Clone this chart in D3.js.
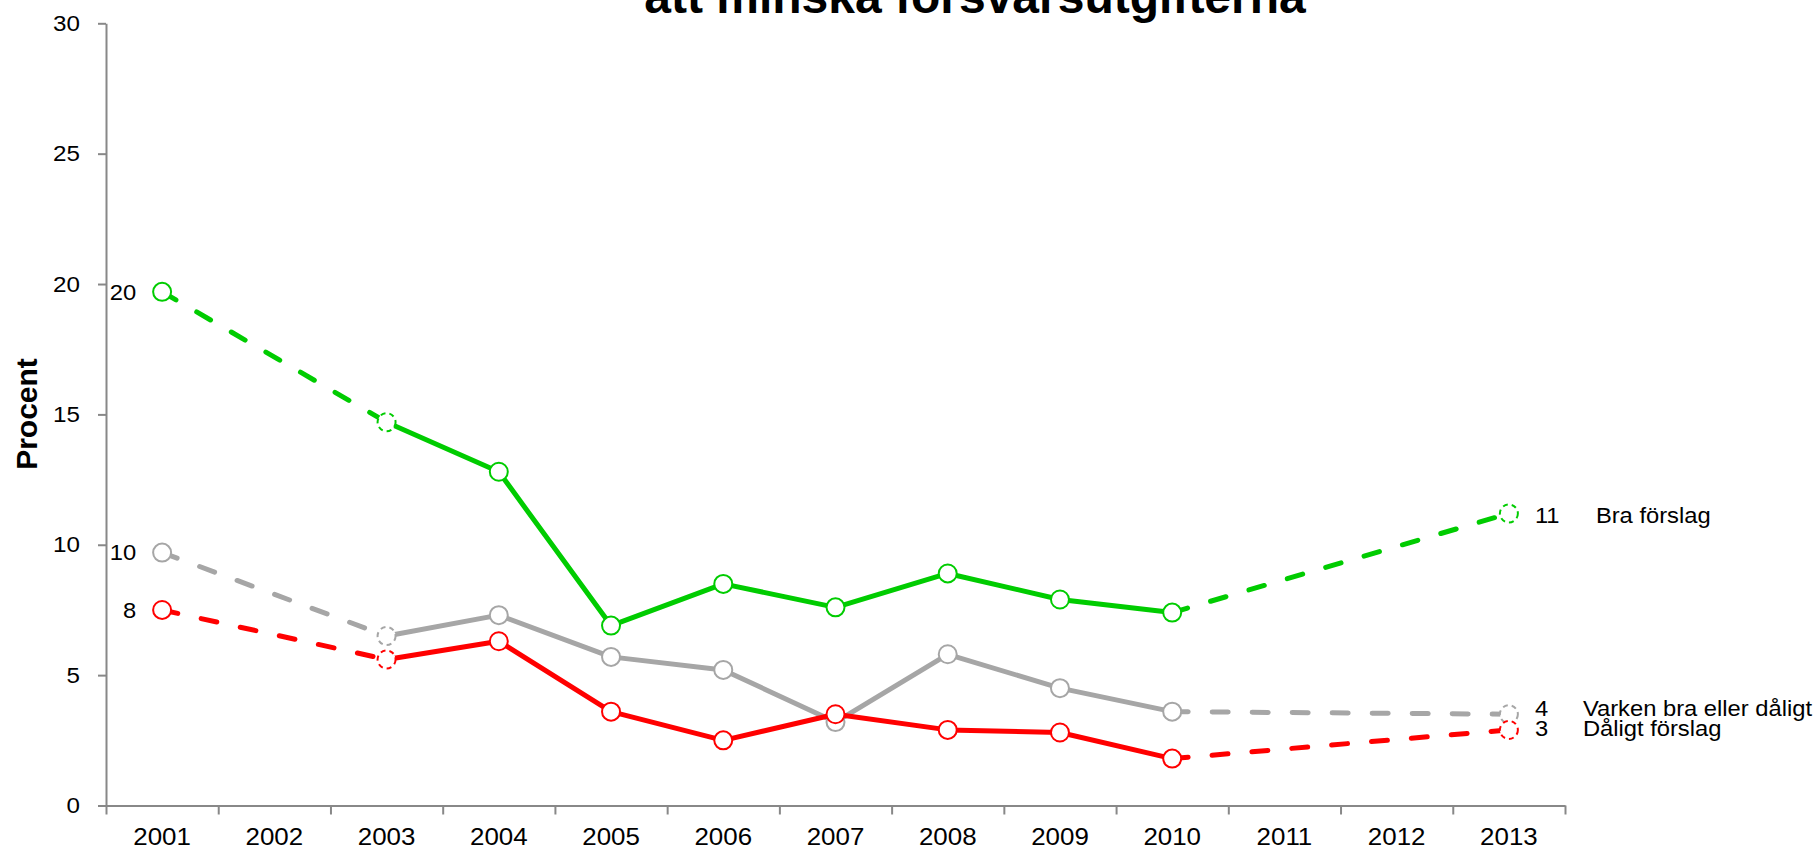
<!DOCTYPE html>
<html><head><meta charset="utf-8">
<script src="https://cdn.jsdelivr.net/npm/d3@7"></script>
<style>body{margin:0;background:#fff;overflow:hidden}svg{display:block}</style>
</head><body><svg id="c" width="1820" height="851"></svg>
<script>
// ---- data ----
const years = ["2001","2002","2003","2004","2005","2006","2007","2008","2009","2010","2011","2012","2013"];
const braForslag    = [19.7, null, 14.7, 12.8, 6.9, 8.5, 7.6, 8.9, 7.9, 7.4, null, null, 11.2];
const varkenBraEllerDaligt = [9.7, null, 6.5, 7.3, 5.7, 5.2, 3.2, 5.8, 4.5, 3.6, null, null, 3.5];
const daligtForslag = [7.5, null, 5.6, 6.3, 3.6, 2.5, 3.5, 2.9, 2.8, 1.8, null, null, 2.9];
const seriesNames = ["Varken bra eller dåligt", "Dåligt förslag", "Bra förslag"];
const yTicks = [0, 5, 10, 15, 20, 25, 30];
const titleText = "att minska försvarsutgifterna";
const yAxisTitle = "Procent";

// ---- layout ----
const svg = d3.select("#c");
const FONT = "'Liberation Sans', Arial, Helvetica, sans-serif";
const SX = 1.08; // horizontal stretch of the reference's text
const plotLeft = 106, plotRight = 1565, plotTop = 23.3, plotBottom = 805.5;
const axisColor = "#888888";

const x = d3.scaleBand().domain(years).range([plotLeft, plotRight]).paddingInner(0).paddingOuter(0);
const bw = x.bandwidth();
const cx = yr => x(yr) + bw / 2;
const y = d3.scaleLinear().domain([0, 30]).range([plotBottom, plotTop]);

const series = [
  {name: seriesNames[0], values: varkenBraEllerDaligt, color: "#A6A6A6", nameDx: 74, labelDy: -6},
  {name: seriesNames[1], values: daligtForslag, color: "#FF0000", nameDx: 74, labelDy: -2},
  {name: seriesNames[2], values: braForslag, color: "#00CC00", nameDx: 87, labelDy: 2}
];

// title (second line visible at top edge)
svg.append("text").attr("x", 975).attr("y", 13).attr("text-anchor", "middle")
  .attr("font-family", FONT).attr("font-weight", "bold").attr("font-size", 48)
  .attr("fill", "#000").text(titleText);

// y axis
const yAxis = svg.append("g").attr("transform", `translate(${plotLeft},0)`)
  .call(d3.axisLeft(y).tickValues(yTicks).tickSize(8).tickSizeOuter(0).tickPadding(18).tickFormat(d3.format("d")));
yAxis.select(".domain").attr("stroke", axisColor).attr("stroke-width", 2);
yAxis.selectAll(".tick line").attr("stroke", axisColor).attr("stroke-width", 2);
yAxis.selectAll(".tick text").each(function() {
  const t = d3.select(this);
  const xx = +t.attr("x");
  t.attr("x", 0).attr("transform", `translate(${xx},0) scale(1.1,1)`);
}).attr("font-family", FONT).attr("font-size", 22).attr("fill", "#000");

// x axis: boundary ticks
const xb = d3.scaleLinear().domain([0, years.length]).range([plotLeft, plotRight]);
const xAxisLines = svg.append("g").attr("transform", `translate(0,${plotBottom})`)
  .call(d3.axisBottom(xb).tickValues(d3.range(0, years.length + 1)).tickSize(9).tickSizeOuter(0).tickFormat(""));
xAxisLines.select(".domain").attr("stroke", axisColor).attr("stroke-width", 2);
xAxisLines.selectAll(".tick line").attr("stroke", axisColor).attr("stroke-width", 2);
// x labels
const xAxisLabels = svg.append("g").attr("transform", `translate(0,${plotBottom})`)
  .call(d3.axisBottom(x).tickSize(0).tickPadding(22));
xAxisLabels.select(".domain").remove();
xAxisLabels.selectAll(".tick text").attr("font-family", FONT).attr("font-size", 24).attr("fill", "#000")
  .attr("transform", `scale(${SX},1)`);

// y axis title
svg.append("text").attr("transform", "translate(37,414) rotate(-90)").attr("text-anchor", "middle")
  .attr("font-family", FONT).attr("font-weight", "bold").attr("font-size", 30).attr("fill", "#000").text(yAxisTitle);

// series
const line = d3.line().x(d => cx(d.year)).y(d => y(d.v));
series.forEach(s => {
  const pts = years.map((yr, i) => ({year: yr, i, v: s.values[i]})).filter(d => d.v != null);
  const segs = [];
  for (let k = 1; k < pts.length; k++) segs.push({a: pts[k-1], b: pts[k], dashed: pts[k].i - pts[k-1].i > 1});
  const g = svg.append("g");
  segs.forEach(sg => {
    g.append("path").attr("d", line([sg.a, sg.b])).attr("fill", "none")
      .attr("stroke", s.color).attr("stroke-width", 5)
      .attr("stroke-linecap", "round").attr("stroke-linejoin", "round")
      .attr("stroke-dasharray", sg.dashed ? "16,24" : null);
  });
  pts.forEach((p, k) => {
    const dashed = k > 0 && segs[k-1].dashed;
    g.append("circle").attr("cx", cx(p.year)).attr("cy", y(p.v)).attr("r", 9)
      .attr("fill", "#fff").attr("stroke", s.color).attr("stroke-width", 2)
      .attr("stroke-dasharray", dashed ? "5,4" : null);
  });
  const first = pts[0], last = pts[pts.length - 1];
  const txt = (xx, yy, anchor, str) => svg.append("text")
    .attr("transform", `translate(${xx},${yy}) scale(${SX},1)`).attr("dy", "0.35em")
    .attr("text-anchor", anchor).attr("font-family", FONT).attr("font-size", 22).attr("fill", "#000").text(str);
  txt(cx(first.year) - 26, y(first.v), "end", Math.round(first.v));
  txt(cx(last.year) + 26, y(last.v) + s.labelDy, "start", Math.round(last.v));
  txt(cx(last.year) + s.nameDx, y(last.v) + s.labelDy, "start", s.name);
});
</script>
</body></html>
